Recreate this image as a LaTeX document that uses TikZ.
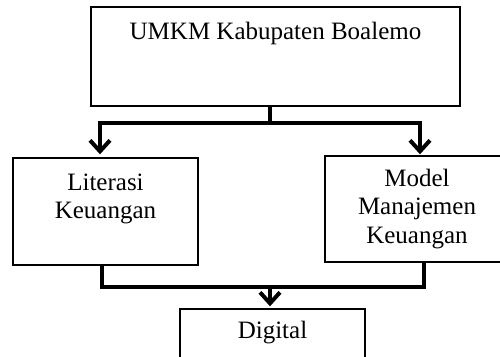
\documentclass[tikz,border=0pt]{standalone}
\usepackage{fontspec}
\setmainfont{Liberation Serif}
\usetikzlibrary{arrows.meta}
\begin{document}
\begin{tikzpicture}[x=1pt,y=-1pt,
  box/.style={draw,line width=1.4pt,fill=white,inner sep=0pt},
  lbl/.style={font=\fontsize{25}{28.8}\selectfont,align=center,inner sep=0pt},
  conn/.style={line width=4.5pt},
  tip/.style={-{Straight Barb[length=11pt,width=20pt,line width=4pt]}}]
\useasboundingbox (0,0) rectangle (500,356);
\begin{scope}
\clip (0,0) rectangle (500,356);
\node[box,minimum width=369pt,minimum height=99pt] (top) at (275.5,56.5) {};
\node[lbl] (toptext) at (275.5,33) {UMKM Kabupaten Boalemo};
\node[box,minimum width=185pt,minimum height=107pt] (left) at (105.5,211.5) {};
\node[lbl] (lefttext) at (105.5,199) {Literasi\\Keuangan};
\node[box,minimum width=186pt,minimum height=106pt] (right) at (418,209) {};
\node[lbl] (righttext) at (417,209) {Model\\Manajemen\\Keuangan};
\node[box,minimum width=185pt,minimum height=70pt] (bottom) at (272.5,344) {};
\node[lbl] (bottomtext) at (272.5,333) {Digital};
\coordinate (split) at (270,123);
\coordinate (merge) at (270,287);
\draw[conn] (top.south -| split) -- (split);
\draw[conn] (100,123) -- (422,123);
\draw[conn,tip,shorten >=3pt] (100,121) -- (left.north -| 100,0);
\draw[conn,tip,shorten >=1pt] (420,121) -- (right.north -| 420,0);
\draw[conn] (left.south -| 102,0) |- (merge) -| (right.south -| 424,0);
\draw[conn,tip,shorten >=2pt] (merge) -- (bottom.north -| merge);
\end{scope}
\end{tikzpicture}
\end{document}
